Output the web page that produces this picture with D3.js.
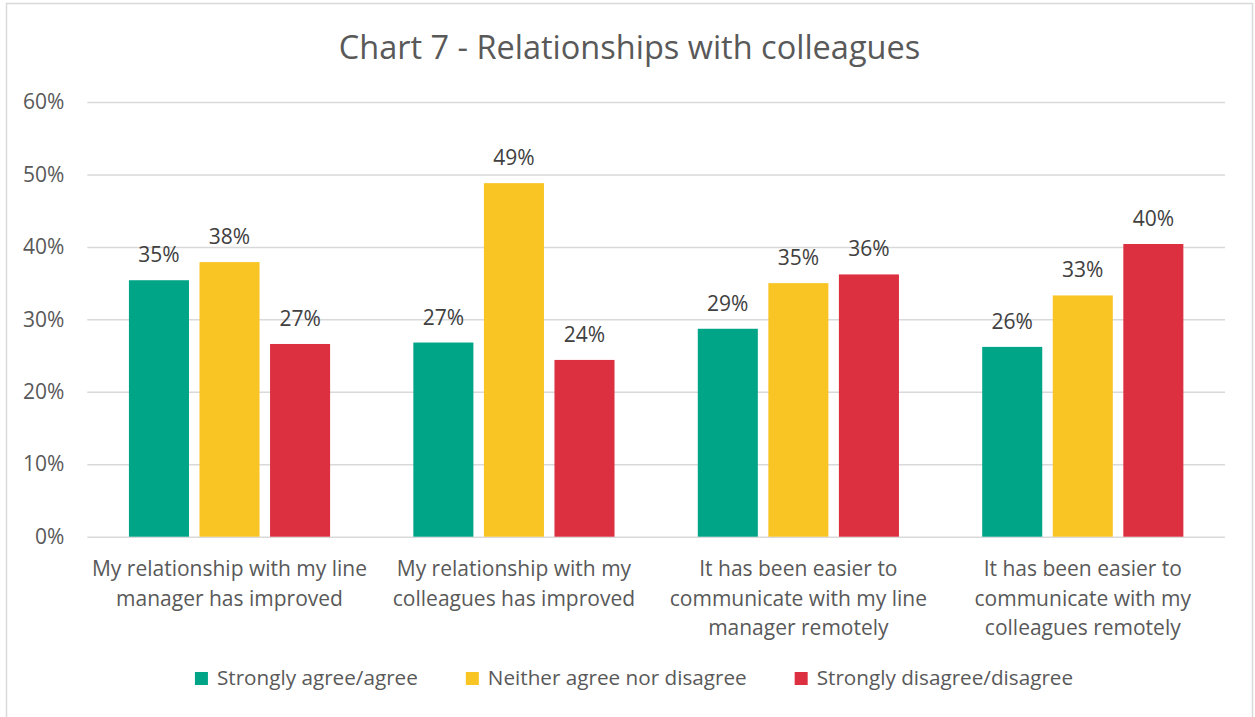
<!DOCTYPE html>
<html>
<head>
<meta charset="utf-8">
<script src="https://cdn.jsdelivr.net/npm/d3@7"></script>
<style>
  html, body { margin: 0; padding: 0; background: #fff; }
  svg { display: block; font-family: "Open Sans", Lato, sans-serif; }
</style>
</head>
<body>
<div class="canvas"></div>
<script>
// data
const categories = [
  ['My relationship with my line', 'manager has improved'],
  ['My relationship with my', 'colleagues has improved'],
  ['It has been easier to', 'communicate with my line', 'manager remotely'],
  ['It has been easier to', 'communicate with my', 'colleagues remotely']
];
const seriesNames = ['Strongly agree/agree', 'Neither agree nor disagree', 'Strongly disagree/disagree'];
const agree    = [0.354, 0.268, 0.287, 0.262];
const neither  = [0.379, 0.488, 0.350, 0.333];
const disagree = [0.266, 0.244, 0.362, 0.404];
const yTicks = [0, 0.1, 0.2, 0.3, 0.4, 0.5, 0.6];
const colours = ['#00a587', '#f8c525', '#dc3040'];

const dims = {width: 1255, height: 717};
const plot = {left: 87.3, right: 1225, top: 102, bottom: 536.7};
const fontFam = '"Open Sans", Lato, sans-serif';

const svg = d3.select('.canvas')
  .append('svg')
  .attr('width', dims.width)
  .attr('height', dims.height);

// chart frame
svg.append('rect')
  .attr('x', 6.5).attr('y', 3.5)
  .attr('width', 1246).attr('height', 730)
  .attr('fill', '#fff')
  .attr('stroke', '#d9d9d9')
  .attr('stroke-width', 1.5);

// title
svg.append('text')
  .attr('x', 629.5).attr('y', 59)
  .attr('text-anchor', 'middle')
  .attr('font-size', 32.5)
  .attr('fill', '#595959')
  .text('Chart 7 - Relationships with colleagues');

const catIdx = categories.map((c, i) => i);

const x0 = d3.scaleBand()
  .domain(catIdx)
  .range([plot.left, plot.right]);

const x1 = d3.scaleBand()
  .domain(seriesNames)
  .range([0, x0.bandwidth()])
  .paddingInner(0.149)
  .paddingOuter(0.59);

const y = d3.scaleLinear()
  .domain([0, 0.6])
  .range([plot.bottom, plot.top]);

// gridlines + tick labels
const yAxis = d3.axisLeft(y)
  .tickValues(yTicks)
  .tickFormat(d3.format('.0%'))
  .tickSize(-(plot.right - plot.left))
  .tickPadding(23);

const yG = svg.append('g')
  .attr('transform', `translate(${plot.left},0)`)
  .call(yAxis);
yG.select('.domain').remove();
yG.selectAll('.tick line').attr('stroke', '#d9d9d9').attr('stroke-width', 1.5);
yG.selectAll('.tick text')
  .attr('font-size', 21)
  .attr('font-family', fontFam)
  .attr('fill', '#595959');

// bars
const rows = catIdx.map(i => seriesNames.map((s, j) => ({
  cat: i, name: s, value: [agree, neither, disagree][j][i], colour: colours[j]
})));

const groups = svg.append('g').selectAll('g')
  .data(rows)
  .join('g')
    .attr('transform', (d, i) => `translate(${x0(i)},0)`);

groups.selectAll('rect')
  .data(d => d)
  .join('rect')
    .attr('x', d => x1(d.name))
    .attr('y', d => y(d.value))
    .attr('width', x1.bandwidth())
    .attr('height', d => y(0) - y(d.value))
    .attr('fill', d => d.colour);

groups.selectAll('text')
  .data(d => d)
  .join('text')
    .attr('x', d => x1(d.name) + x1.bandwidth() / 2)
    .attr('y', d => y(d.value) - 18)
    .attr('text-anchor', 'middle')
    .attr('font-size', 21)
    .attr('fill', '#404040')
    .text(d => d3.format('.0%')(d.value));

// category labels
const catG = svg.append('g').selectAll('text')
  .data(categories)
  .join('text')
    .attr('x', (d, i) => x0(i) + x0.bandwidth() / 2)
    .attr('y', 576)
    .attr('text-anchor', 'middle')
    .attr('font-size', 21)
    .attr('fill', '#595959');

catG.selectAll('tspan')
  .data(d => d)
  .join('tspan')
    .attr('x', function() { return this.parentNode.getAttribute('x'); })
    .attr('dy', (d, i) => i === 0 ? 0 : 29.5)
    .text(d => d);

// legend
const legendGroup = svg.append('g');
const items = legendGroup.selectAll('g')
  .data(seriesNames)
  .join('g');

items.append('rect')
  .attr('y', 672)
  .attr('width', 13).attr('height', 13)
  .attr('fill', (d, i) => colours[i]);

items.append('text')
  .attr('x', 22)
  .attr('y', 685)
  .attr('font-size', 20.7)
  .attr('fill', '#595959')
  .text(d => d);

// lay legend items out side by side, centred
let offset = 0;
const itemGap = 48;
const widths = [];
items.each(function() {
  widths.push(22 + d3.select(this).select('text').node().getComputedTextLength());
});
const total = d3.sum(widths) + itemGap * (widths.length - 1);
const startX = 634 - total / 2;
items.attr('transform', (d, i) => {
  const tx = startX + offset;
  offset += widths[i] + itemGap;
  return `translate(${tx},0)`;
});
</script>
</body>
</html>
